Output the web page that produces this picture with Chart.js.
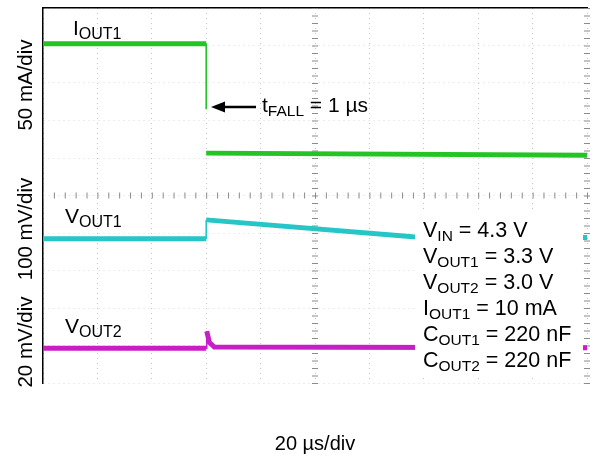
<!DOCTYPE html>
<html>
<head>
<meta charset="utf-8">
<script src="https://cdn.jsdelivr.net/npm/chart.js@4.4.1/dist/chart.umd.min.js"></script>
<style>
  html, body { margin: 0; padding: 0; background: #fff; }
  #wrap { width: 594px; height: 456px; position: relative; }
</style>
</head>
<body>
<div id="wrap"><canvas id="scope"></canvas></div>
<script>
// time axis in divisions (20 us/div), amplitudes in divisions (0 = bottom of screen)
const timeIout1 = [0, 3.0, 3.0, 3.0, 3.0, 10];
const iout1 = [9.05, 9.05, 7.3, null, 6.13, 6.07];

const timeVout1 = [0, 3.0, 3.0, 6.8, 10];
const vout1 = [3.85, 3.85, 4.35, 3.9, 3.88];

const timeVout2 = [0, 3.0, 3.01, 3.06, 3.15, 10];
const vout2 = [0.93, 0.93, 1.38, 1.08, 0.96, 0.94];

const divTicks = [0, 1, 2, 3, 4, 5, 6, 7, 8, 9, 10];

const axisLabels = ['50 mA/div', '100 mV/div', '20 mV/div'];
const conditions = [
  [['V', 0], ['IN', 1], [' = 4.3 V', 0]],
  [['V', 0], ['OUT1', 1], [' = 3.3 V', 0]],
  [['V', 0], ['OUT2', 1], [' = 3.0 V', 0]],
  [['I', 0], ['OUT1', 1], [' = 10 mA', 0]],
  [['C', 0], ['OUT1', 1], [' = 220 nF', 0]],
  [['C', 0], ['OUT2', 1], [' = 220 nF', 0]]
];

const FONT = '"Liberation Sans", Arial, Helvetica, sans-serif';

function toPoints(xs, ys) {
  return xs.map((x, i) => ({ x: x, y: ys[i] }));
}

// steep edges are drawn thin like on the scope screen
function edgeWidth(ctx) {
  return Math.abs(ctx.p1.parsed.x - ctx.p0.parsed.x) < 0.02 ? 1.6 : 5;
}

function drawRich(ctx, x, y, parts, size, subSize) {
  let cx = x;
  parts.forEach(([txt, sub]) => {
    ctx.font = (sub ? subSize : size) + 'px ' + FONT;
    ctx.fillText(txt, cx, sub ? y + 4 : y);
    cx += ctx.measureText(txt).width;
  });
}

const scopeText = {
  id: 'scopeText',
  beforeDatasetsDraw(chart) {
    const ctx = chart.ctx;
    const xs = chart.scales.x, ys = chart.scales.y;
    ctx.save();
    ctx.strokeStyle = '#8a8a8a';
    ctx.lineWidth = 1;
    ctx.beginPath();
    for (let i = 0; i <= 50; i++) {
      const px = xs.getPixelForValue(i * 0.2);
      const py = ys.getPixelForValue(5);
      ctx.moveTo(px + 0.5, py - 3);
      ctx.lineTo(px + 0.5, py + 3);
      [5, 10].forEach(v => {
        const qx = xs.getPixelForValue(v);
        const qy = ys.getPixelForValue(i * 0.2);
        ctx.moveTo(qx - 3, qy + 0.5);
        ctx.lineTo(qx + 3, qy + 0.5);
      });
    }
    ctx.stroke();
    ctx.restore();
  },
  afterDatasetsDraw(chart) {
    const ctx = chart.ctx;
    ctx.save();
    ctx.fillStyle = '#fff';
    ctx.fillRect(415, 212, 168, 166);

    ctx.fillStyle = '#000';
    ctx.textAlign = 'left';
    ctx.textBaseline = 'alphabetic';

    drawRich(ctx, 73, 35, [['I', 0], ['OUT1', 1]], 21, 16);
    drawRich(ctx, 65, 223, [['V', 0], ['OUT1', 1]], 21, 16);
    drawRich(ctx, 65, 333, [['V', 0], ['OUT2', 1]], 21, 16);
    drawRich(ctx, 262, 112, [['t', 0], ['FALL', 1], [' = 1 \u00b5s', 0]], 21, 15.5);

    conditions.forEach((line, i) => {
      drawRich(ctx, 423, 237 + i * 26, line, 21.5, 15.5);
    });

    // arrow to the falling edge
    ctx.strokeStyle = '#000';
    ctx.lineWidth = 2.5;
    ctx.beginPath();
    ctx.moveTo(256, 107);
    ctx.lineTo(222, 107);
    ctx.stroke();
    ctx.beginPath();
    ctx.moveTo(211, 107);
    ctx.lineTo(225, 101.5);
    ctx.lineTo(225, 112.5);
    ctx.closePath();
    ctx.fill();

    // per-channel scale labels
    ctx.font = '20.5px ' + FONT;
    ctx.textAlign = 'center';
    [85, 229, 342].forEach((cy, i) => {
      ctx.save();
      ctx.translate(32, cy);
      ctx.rotate(-Math.PI / 2);
      ctx.fillText(axisLabels[i], 0, 0);
      ctx.restore();
    });
    ctx.restore();
  }
};

new Chart(document.getElementById('scope').getContext('2d'), {
  type: 'line',
  data: {
    datasets: [
      {
        label: 'IOUT1',
        data: toPoints(timeIout1, iout1),
        borderColor: '#24c424',
        borderWidth: 5,
        pointRadius: 0,
        spanGaps: false,
        segment: { borderWidth: edgeWidth }
      },
      {
        label: 'VOUT1',
        data: toPoints(timeVout1, vout1),
        borderColor: '#26c6c6',
        borderWidth: 5,
        pointRadius: 0,
        segment: { borderWidth: edgeWidth }
      },
      {
        label: 'VOUT2',
        data: toPoints(timeVout2, vout2),
        borderColor: '#c81ec8',
        borderWidth: 5,
        pointRadius: 0,
        segment: { borderWidth: edgeWidth }
      }
    ]
  },
  options: {
    responsive: true,
    maintainAspectRatio: false,
    animation: false,
    layout: { padding: { left: 43, right: 7, top: 8, bottom: 0 } },
    plugins: {
      legend: { display: false },
      tooltip: { enabled: false }
    },
    scales: {
      x: {
        type: 'linear',
        min: 0,
        max: 10,
        afterBuildTicks: s => { s.ticks = divTicks.map(v => ({ value: v })); },
        ticks: { display: false },
        grid: { color: '#c4c4c4', lineWidth: 1, drawTicks: false },
        border: { display: false, dash: [1, 4] },
        title: {
          display: true,
          text: '20 \u00b5s/div',
          color: '#000',
          font: { family: FONT, size: 20 },
          padding: { top: 49, bottom: 0 }
        }
      },
      x2: {
        type: 'linear',
        position: 'top',
        min: 0,
        max: 10,
        ticks: { display: false },
        grid: { display: false, drawTicks: false },
        border: { display: true, color: '#000', width: 1.5 }
      },
      y: {
        min: 0,
        max: 10,
        afterBuildTicks: s => { s.ticks = divTicks.map(v => ({ value: v })); },
        ticks: { display: false },
        grid: { color: '#dadada', lineWidth: 1, drawTicks: false },
        border: { display: true, color: '#000', width: 1.5, dash: [1, 4] }
      }
    }
  },
  plugins: [scopeText]
});
</script>
</body>
</html>
